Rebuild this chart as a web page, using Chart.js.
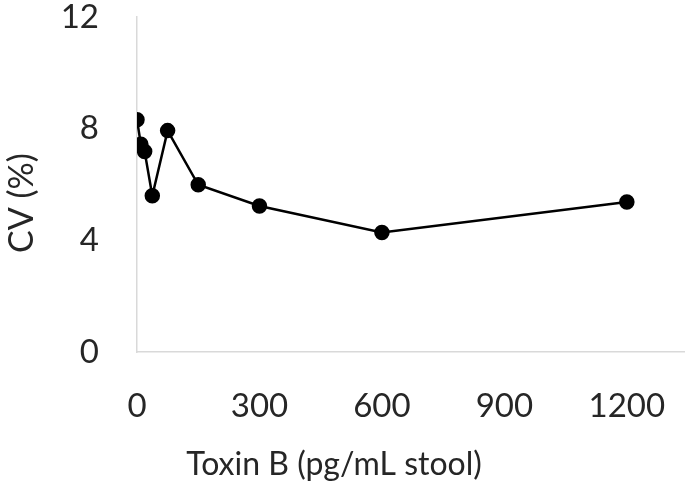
<!DOCTYPE html>
<html lang="en">
<head>
    <meta charset="UTF-8">
    <title>CV vs Toxin B</title>
    <script src="https://cdn.jsdelivr.net/npm/chart.js@4/dist/chart.umd.min.js"></script>
    <style>
        html, body { margin: 0; padding: 0; background: #fff; overflow: hidden; }
        #wrap { width: 693px; height: 489px; }
    </style>
</head>
<body>
<div id="wrap"><canvas id="cv"></canvas></div>

<script>
    // data
    const toxinB = [0, 9.4, 18.75, 37.5, 75, 150, 300, 600, 1200];
    const cvPct  = [8.32, 7.44, 7.18, 5.6, 7.93, 5.99, 5.23, 4.28, 5.37];
    const xTicks = [0, 300, 600, 900, 1200];
    const yTicks = [0, 4, 8, 12];
    const xTitle = 'Toxin B (pg/mL stool)';
    const yTitle = 'CV (%)';

    const textColor = '#262626';
    const axisColor = '#d9d9d9';
    const fontFamily = 'Lato, "Open Sans", sans-serif';

    // axis titles, placed like the original
    const axisTitles = {
        id: 'axisTitles',
        afterDraw(chart) {
            const ctx = chart.ctx;
            ctx.save();
            ctx.fillStyle = textColor;
            ctx.textAlign = 'center';
            ctx.textBaseline = 'middle';
            ctx.font = '32px ' + fontFamily;
            ctx.fillText(xTitle, 334, 465);
            ctx.font = '34px ' + fontFamily;
            ctx.translate(22, 203);
            ctx.rotate(-Math.PI / 2);
            ctx.fillText(yTitle, 0, 0);
            ctx.restore();
        }
    };

    new Chart(document.getElementById('cv'), {
        type: 'line',
        data: {
            datasets: [{
                data: toxinB.map((x, i) => ({ x: x, y: cvPct[i] })),
                borderColor: '#000',
                backgroundColor: '#000',
                borderWidth: 2.5,
                pointRadius: 6.5,
                pointHoverRadius: 6.5,
                tension: 0
            }]
        },
        options: {
            responsive: true,
            maintainAspectRatio: false,
            animation: false,
            layout: { padding: { top: 17, right: 2, left: 0, bottom: 0 } },
            plugins: { legend: { display: false }, tooltip: { enabled: false } },
            scales: {
                x: {
                    type: 'linear',
                    min: 0,
                    max: 1340,
                    afterBuildTicks: s => { s.ticks = xTicks.map(v => ({ value: v })); },
                    afterFit: s => { s.height = 137; s.paddingLeft = 0; s.paddingRight = 0; },
                    grid: { display: false, drawTicks: false },
                    border: { display: true, color: axisColor, width: 1.5 },
                    ticks: { color: textColor, padding: 38, maxRotation: 0,
                             callback: v => String(v),
                             font: { family: fontFamily, size: 33, lineHeight: 1 } }
                },
                y: {
                    min: 0,
                    max: 12,
                    afterBuildTicks: s => { s.ticks = yTicks.map(v => ({ value: v })); },
                    afterFit: s => { s.width = 137; s.paddingTop = 0; s.paddingBottom = 0; },
                    grid: { display: false, drawTicks: false },
                    border: { display: true, color: axisColor, width: 1.5 },
                    ticks: { color: textColor, padding: 38,
                             font: { family: fontFamily, size: 33, lineHeight: 1 } }
                }
            }
        },
        plugins: [axisTitles]
    });
</script>
</body>
</html>
